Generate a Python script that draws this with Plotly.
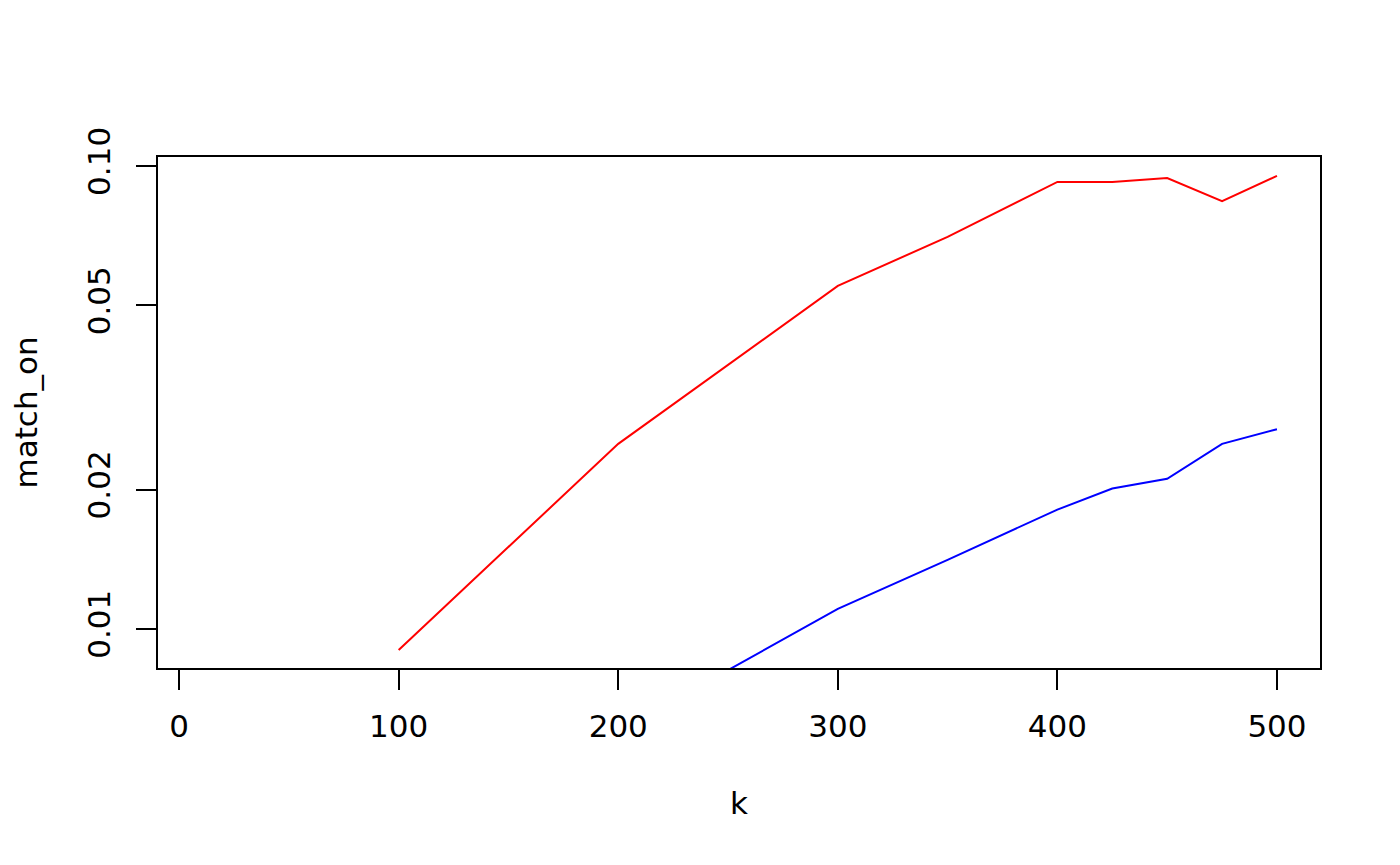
import plotly.graph_objects as go
import math

k = [100, 200, 300, 350, 400, 425, 450, 475, 500]
red_vals = [0.0090, 0.0251, 0.0551, 0.0703, 0.0924, 0.0924, 0.0942, 0.0840, 0.0952]
blue_vals = [None, 0.0060, 0.01105, 0.0141, 0.0181, 0.0201, 0.0211, 0.0251, 0.0270]

x_ticks = [0, 100, 200, 300, 400, 500]
y_ticks = [0.01, 0.02, 0.05, 0.10]
y_tick_text = ["0.01", "0.02", "0.05", "0.10"]

FONT = "DejaVu Sans"
FS = 31

fig = go.Figure()
fig.add_trace(go.Scatter(x=k, y=red_vals, mode="lines", line=dict(color="#ff0000", width=2), showlegend=False))
fig.add_trace(go.Scatter(x=k, y=blue_vals, mode="lines", line=dict(color="#0000ff", width=2), showlegend=False))

fig.update_layout(
    width=1400, height=865,
    margin=dict(l=158, r=80, t=157, b=197),
    paper_bgcolor="white", plot_bgcolor="white",
    font=dict(family=FONT, size=FS, color="black"),
    xaxis=dict(range=[-9.6, 519.6], tickvals=x_ticks, ticks="outside", ticklen=20, tickwidth=2,
               tickcolor="black", showline=True, linecolor="black", linewidth=2, mirror=True,
               showgrid=False, zeroline=False, tickfont=dict(size=FS), ticklabelstandoff=10),
    yaxis=dict(type="log", range=[math.log10(0.00823), math.log10(0.1046)], tickvals=y_ticks,
               ticktext=y_tick_text, ticks="outside", ticklen=20, tickwidth=2, tickcolor="black",
               showline=True, linecolor="black", linewidth=2, mirror=True, showgrid=False,
               zeroline=False, tickangle=-90, tickfont=dict(size=FS), ticklabelstandoff=14),
    annotations=[
        dict(text="k", xref="paper", yref="paper", x=0.5, y=0, yshift=-135, showarrow=False,
             xanchor="center", yanchor="middle", font=dict(size=FS)),
        dict(text="match_on", xref="paper", yref="paper", x=0, y=0.5, xshift=-133, showarrow=False,
             textangle=-90, xanchor="center", yanchor="middle", font=dict(size=FS)),
    ],
)

fig.write_html("out.html")
